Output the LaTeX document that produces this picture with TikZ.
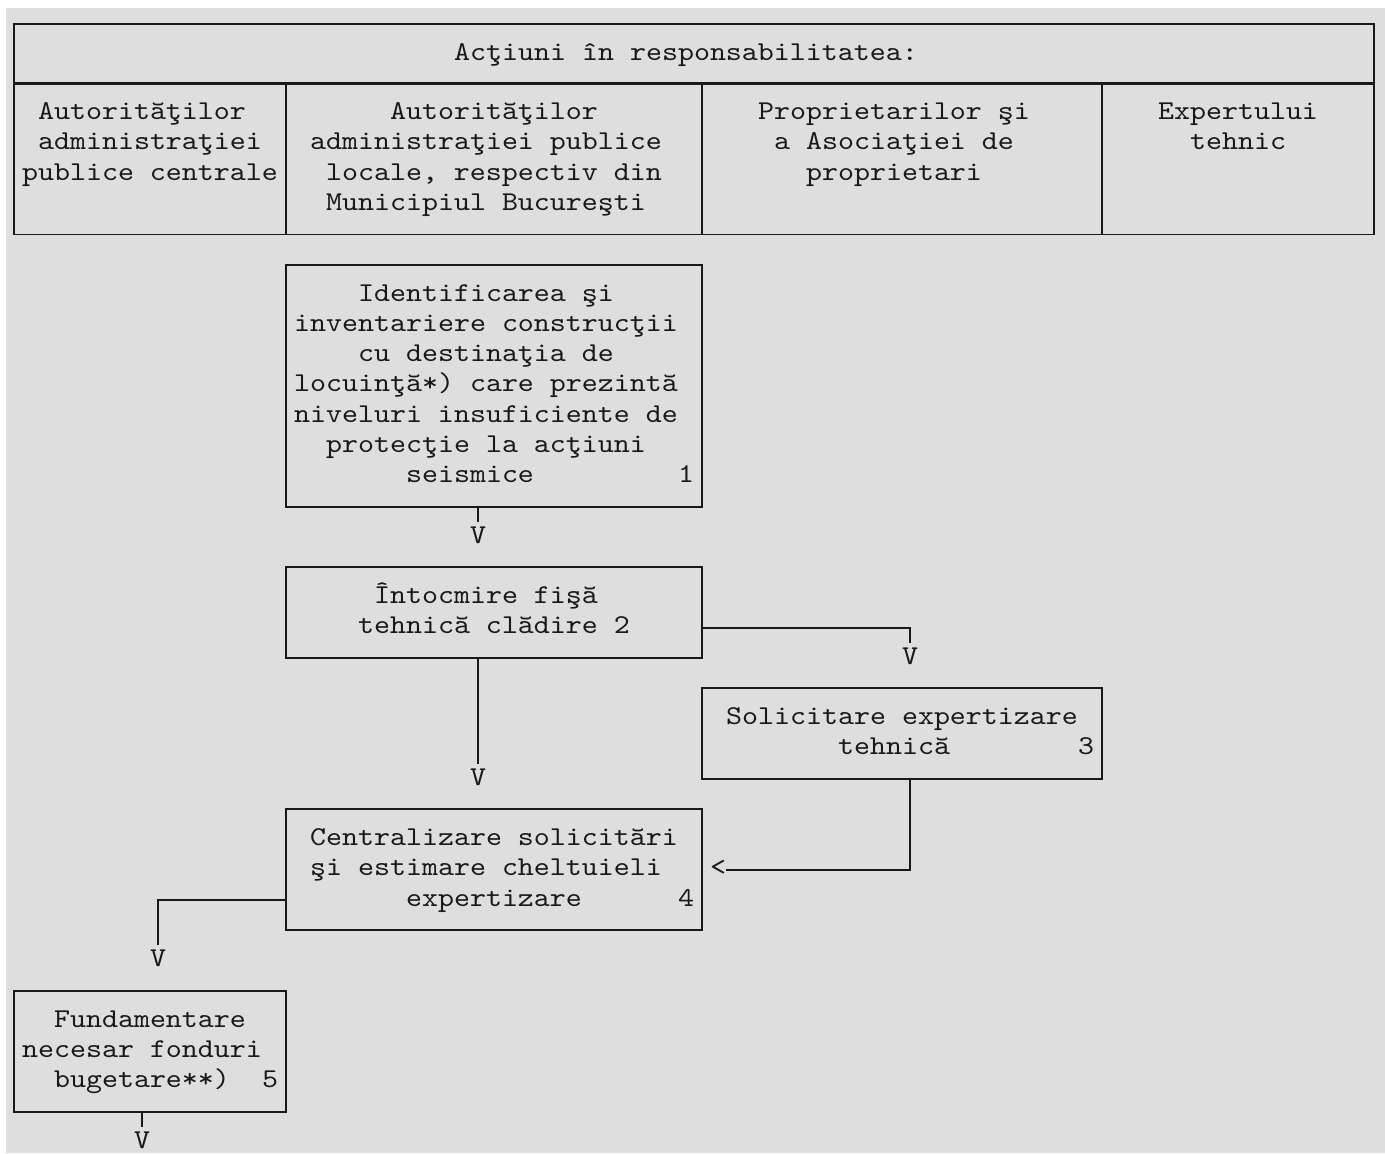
\documentclass[tikz,border=0pt]{standalone}
\usepackage{fontspec}
\newfontfamily\monofont{lmmono10-regular.otf}[FakeStretch=1.12]
\newcommand{\mono}{\monofont\fontsize{13.6pt}{15.125pt}\selectfont}
\newcommand{\pad}{\phantom{0}}
\newcommand{\rows}[1]{\begin{tabular}{@{}c@{}}#1\end{tabular}}
\definecolor{sheet}{RGB}{222,222,222}
\definecolor{ink}{RGB}{25,25,25}
\tikzset{
  txt/.style={font=\mono, text=ink, inner sep=0pt, outer sep=0pt},
  chr/.style={txt, execute at begin node=\strut},
  cell/.style={txt, draw=ink},
  stage/.style={txt, draw=ink},
}
\begin{document}
\begin{tikzpicture}[x=0.5pt, y=-0.5pt, line width=0.9pt]
      \useasboundingbox (0,0) rectangle (1385,1153);
      \fill[sheet] (6,8) rectangle (1385,1153);
      \node[cell, minimum width=680pt, minimum height=30.25pt] (head) at (694,54)
        {\rows{Acţiuni în responsabilitatea:\pad}};
      \node[cell, minimum width=136pt, minimum height=75.625pt] (colA) at (150,158.83)
        {\rows{Autorităţilor\pad\\administraţiei\\publice centrale\\\mbox{}}};
      \node[cell, minimum width=208pt, minimum height=75.625pt] (colB) at (494,158.83)
        {\rows{Autorităţilor\\administraţiei publice\pad\\locale, respectiv din\\Municipiul Bucureşti\pad}};
      \node[cell, minimum width=200pt, minimum height=75.625pt] (colC) at (902,158.83)
        {\rows{Proprietarilor şi\pad\\a Asociaţiei de\pad\\proprietari\pad\\\mbox{}}};
      \node[cell, minimum width=136pt, minimum height=75.625pt] (colD) at (1238,158.83)
        {\rows{Expertului\\tehnic\\\mbox{}\\\mbox{}}};
      \node[stage, minimum width=208pt, minimum height=121pt] (b1) at (494,385.7)
        {\rows{Identificarea şi\pad\\inventariere construcţii\pad\\cu destinaţia de\pad\\locuinţă*) care prezintă\pad\\niveluri insuficiente de\pad\\protecţie la acţiuni\pad\\seismice\pad\pad\pad}};
      \node[chr] (n1) at (686,476.45) {1};
      \node[chr] (v1) at (478,536.95) {V};
      \node[stage, minimum width=208pt, minimum height=45.375pt] (b2) at (494,612.58)
        {\rows{Întocmire fişă\pad\\tehnică clădire 2}};
      \node[chr] (v2) at (910,657.95) {V};
      \node[stage, minimum width=200pt, minimum height=45.375pt] (b3) at (902,733.58)
        {\rows{Solicitare expertizare\\tehnică\pad}};
      \node[chr] (n3) at (1086,748.7) {3};
      \node[chr] (v3) at (478,778.95) {V};
      \node[stage, minimum width=208pt, minimum height=60.5pt] (b4) at (494,869.7)
        {\rows{Centralizare solicitări\\şi estimare cheltuieli\pad\\expertizare}};
      \node[chr] (n4) at (686,899.95) {4};
      \node[chr] (lt) at (718,869.7) {<};
      \node[chr] (v4) at (158,960.45) {V};
      \node[stage, minimum width=136pt, minimum height=60.5pt] (b5) at (150,1051.2)
        {\rows{Fundamentare\\necesar fonduri\pad\\bugetare**)\pad}};
      \node[chr] (n5) at (270,1081.45) {5};
      \node[chr] (v5) at (142,1141.95) {V};
      \draw[ink] (b1.south -| v1) -- (v1.north);
      \draw[ink] ([yshift=-7.56pt]b2.east) -| (v2.north);
      \draw[ink] (b2.south -| v3) -- (v3.north);
      \draw[ink] (b3.south -| v2) |- (lt.east);
      \draw[ink] ([yshift=-15.125pt]b4.west) -| (v4.north);
      \draw[ink] (b5.south -| v5) -- (v5.north);
    \end{tikzpicture}
\end{document}
